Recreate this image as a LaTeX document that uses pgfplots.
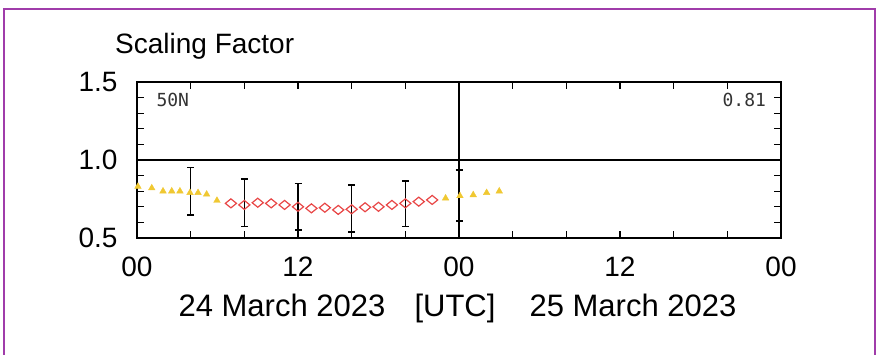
\documentclass[border=0pt]{standalone}
\usepackage{pgfplots}
\pgfplotsset{compat=1.18}
\usepackage{fontspec}
\setmainfont{Liberation Sans}
\newfontfamily\monofont{DejaVu Sans Mono}
\definecolor{framepurple}{RGB}{160,60,170}
\definecolor{tri}{RGB}{240,200,50}
\definecolor{dia}{RGB}{232,70,70}
\begin{document}
\begin{tikzpicture}[x=1pt,y=1pt]
\path[use as bounding box] (0,0) rectangle (881,355);
\draw[framepurple, line width=2.5pt] (4,-20) -- (4,346) -- (875,346) -- (875,-20);
\node[anchor=base west, inner sep=0pt, font=\fontsize{28}{30}\selectfont] at (115,301) {Scaling Factor};
\begin{axis}[
  at={(137pt,117pt)}, anchor=south west,
  scale only axis, width=644pt, height=156pt,
  xmin=0, xmax=48, ymin=0.5, ymax=1.5,
  axis line style={line width=1.6pt},
  xtick={0,12,24,36,48}, xticklabels={00,12,00,12,00},
  minor xtick={4,8,16,20,28,32,40,44},
  ytick={0.5,1.0,1.5}, yticklabels={0.5,1.0,1.5},
  minor ytick={0.6,0.7,0.8,0.9,1.1,1.2,1.3,1.4},
  tick align=inside, major tick length=7pt, minor tick length=7pt,
  every tick/.style={black, line width=1.2pt},
  xtick pos=both, ytick pos=both,
  ticklabel style={font=\fontsize{28}{30}\selectfont},
  yticklabel style={xshift=-16pt},
  xticklabel style={yshift=-15pt},
  clip=false,
]
\draw[line width=1.6pt] (axis cs:0,1.0) -- (axis cs:48,1.0);
\draw[line width=1.6pt] (axis cs:24,0.5) -- (axis cs:24,1.5);
\addplot[only marks, mark=triangle*, mark size=3.8pt, color=tri] coordinates {
(0.07,0.83) (1.1,0.82) (1.94,0.80) (2.59,0.80) (3.2,0.80) (3.95,0.79) (4.55,0.79) (5.19,0.78) (5.96,0.74)
};
\addplot[only marks, mark=triangle*, mark size=3.8pt, color=tri] coordinates {
(23.0,0.755) (24.07,0.77) (25.06,0.776) (26.06,0.79) (27.0,0.80)
};
\addplot[only marks, mark=diamond, mark size=4.5pt, color=dia, mark options={xscale=1.65, line width=1.2pt}] coordinates {
(7,0.722) (8,0.712) (9,0.726) (10,0.722) (11,0.712) (12,0.70) (13,0.69) (14,0.694)
(15,0.68) (16,0.684) (17,0.697) (18,0.70) (19,0.712) (20,0.722) (21,0.733) (22,0.744)
};
\addplot[draw=none, mark=none, error bars/.cd, y dir=both, y explicit,
  error bar style={line width=1.6pt, black},
  error mark options={rotate=90, mark size=3.5pt, line width=1.6pt, black}] coordinates {
(4,0.80) +- (0,0.153)
(8,0.725) +- (0,0.152)
(12,0.70) +- (0,0.15)
(16,0.69) +- (0,0.15)
(20,0.72) +- (0,0.146)
(24,0.773) +- (0,0.163)
};
\node[anchor=north west, inner sep=0pt, text=black!80, font=\monofont\fontsize{18}{20}\selectfont] at (rel axis cs:0.03,0.93) {50N};
\node[anchor=north east, inner sep=0pt, text=black!80, font=\monofont\fontsize{18}{20}\selectfont] at (rel axis cs:0.977,0.93) {0.81};
\end{axis}
\node[anchor=base, inner sep=0pt, font=\fontsize{31}{34}\selectfont] at (282,38) {24 March 2023};
\node[anchor=base, inner sep=0pt, font=\fontsize{31}{34}\selectfont] at (455,38) {[UTC]};
\node[anchor=base, inner sep=0pt, font=\fontsize{31}{34}\selectfont] at (633,38) {25 March 2023};
\end{tikzpicture}
\end{document}
